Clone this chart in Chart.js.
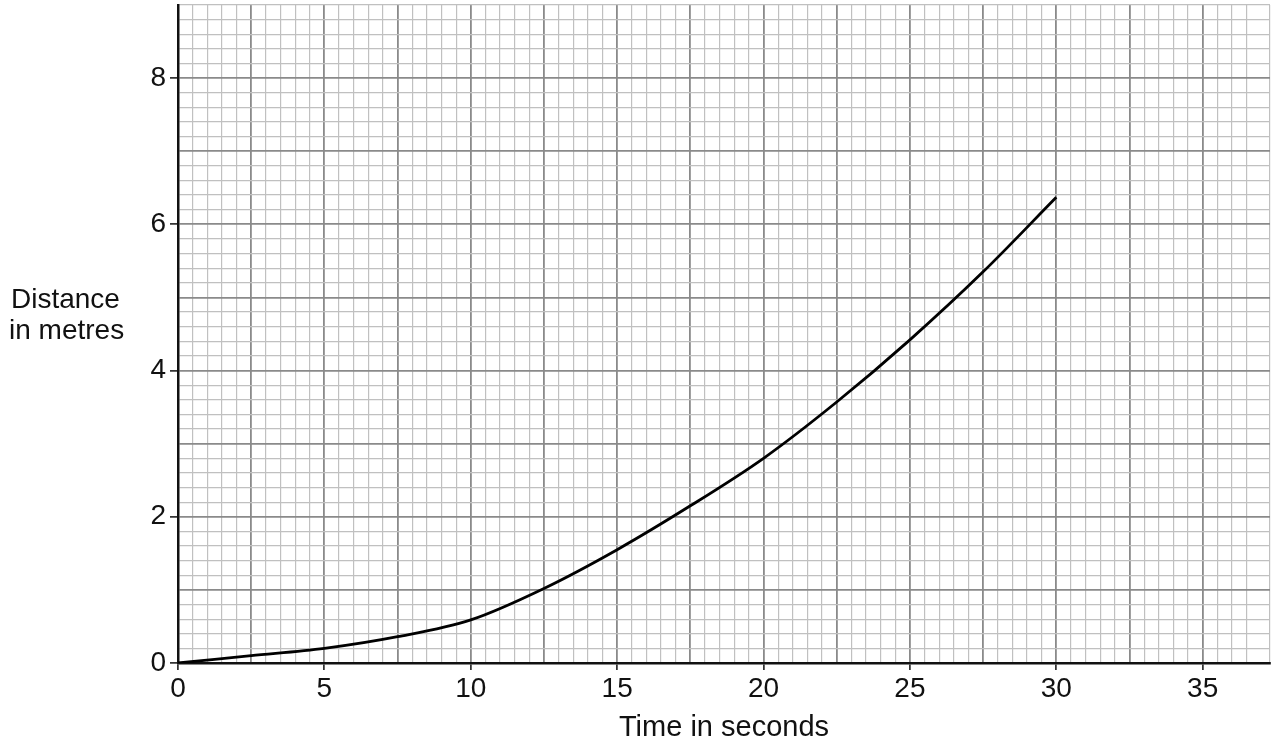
<!DOCTYPE html>
<html>
<head>
<meta charset="utf-8">
<script src="https://cdn.jsdelivr.net/npm/chart.js@4/dist/chart.umd.min.js"></script>
<style>
  html, body { margin: 0; padding: 0; background: #fff; }
  #wrap { width: 1272px; height: 746px; position: relative; }
</style>
</head>
<body>
<div id="wrap"><canvas id="c" width="1272" height="746"></canvas></div>
<script>
// ---- data ----
const timeSeconds = [0, 2.5, 5, 7.5, 10, 12.5, 15, 17.5, 20, 22.5, 25, 27.5, 30];
const distanceMetres = [0, 0.1, 0.2, 0.36, 0.59, 1.02, 1.55, 2.15, 2.8, 3.57, 4.42, 5.35, 6.37];
const xTickLabels = [0, 5, 10, 15, 20, 25, 30, 35];
const yTickLabels = [0, 2, 4, 6, 8];
const xTitle = 'Time in seconds';
const yTitleLines = ['Distance', 'in metres'];

const near = (v, m) => Math.abs(v / m - Math.round(v / m)) < 1e-6;
const FONT = 'Liberation Sans, Arial, sans-serif';

const yTitlePlugin = {
  id: 'yTitle',
  afterDraw(chart) {
    const ctx = chart.ctx;
    ctx.save();
    ctx.fillStyle = '#111';
    ctx.font = '28px ' + FONT;
    ctx.textAlign = 'left';
    ctx.textBaseline = 'alphabetic';
    ctx.fillText(yTitleLines[0], 11, 308);
    ctx.fillText(yTitleLines[1], 9, 339);
    ctx.restore();
  }
};

new Chart(document.getElementById('c'), {
  type: 'scatter',
  data: {
    datasets: [{
      data: timeSeconds.map((t, i) => ({ x: t, y: distanceMetres[i] })),
      showLine: true,
      borderColor: '#000',
      borderWidth: 2.8,
      pointRadius: 0,
      cubicInterpolationMode: 'monotone',
      fill: false
    }]
  },
  options: {
    responsive: false,
    animation: false,
    devicePixelRatio: 1,
    layout: { padding: { top: 5, right: 2, left: 0, bottom: 0 } },
    plugins: { legend: { display: false }, tooltip: { enabled: false } },
    scales: {
      x: {
        type: 'linear',
        min: 0,
        max: 37.3,
        afterFit(scale) { scale.height = 83; scale.paddingLeft = 0; scale.paddingRight = 0; },
        border: { color: '#111', width: 2.5 },
        grid: {
          color: (c) => near(c.tick.value, 2.5) ? '#8a8a8a' : '#c0c0c0',
          lineWidth: (c) => near(c.tick.value, 2.5) ? 1.8 : 1.2,
          tickColor: (c) => xTickLabels.some(v => Math.abs(v - c.tick.value) < 1e-6) ? '#111' : 'rgba(0,0,0,0)',
          tickLength: 7,
          tickWidth: 1.5
        },
        ticks: {
          stepSize: 0.5,
          autoSkip: false,
          maxRotation: 0,
          padding: 2,
          color: '#111',
          font: { family: FONT, size: 28 },
          callback: (v) => xTickLabels.some(t => Math.abs(t - v) < 1e-6) ? String(Math.round(v)) : ''
        },
        title: {
          display: true,
          text: xTitle,
          color: '#111',
          font: { family: FONT, size: 29 },
          padding: { top: 0, bottom: 1 }
        }
      },
      y: {
        type: 'linear',
        min: 0,
        max: 9,
        afterFit(scale) { scale.width = 178; scale.paddingTop = 0; scale.paddingBottom = 0; },
        border: { color: '#111', width: 2.5 },
        grid: {
          color: (c) => (near(c.tick.value, 1) && c.tick.value < 8.99) ? '#8a8a8a' : '#c0c0c0',
          lineWidth: (c) => (near(c.tick.value, 1) && c.tick.value < 8.99) ? 1.8 : 1.2,
          tickColor: (c) => yTickLabels.some(v => Math.abs(v - c.tick.value) < 1e-6) ? '#111' : 'rgba(0,0,0,0)',
          tickLength: 8,
          tickWidth: 1.5
        },
        ticks: {
          stepSize: 0.2,
          autoSkip: false,
          padding: 4,
          color: '#111',
          font: { family: FONT, size: 28 },
          callback: (v) => yTickLabels.some(t => Math.abs(t - v) < 1e-6) ? String(Math.round(v)) : ''
        }
      }
    }
  },
  plugins: [yTitlePlugin]
});
</script>
</body>
</html>
